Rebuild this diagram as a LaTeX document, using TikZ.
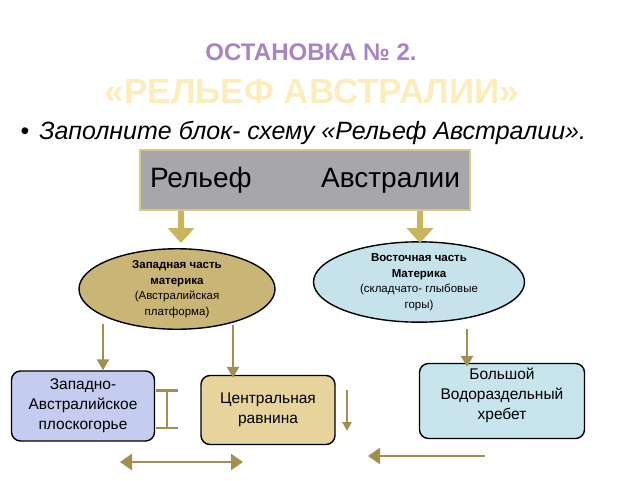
\documentclass[tikz,border=0pt]{standalone}
\usepackage{fontspec}
\setmainfont{Liberation Sans}
\usetikzlibrary{arrows.meta,shapes.geometric,positioning}
\definecolor{titlepurple}{HTML}{A785C5}
\definecolor{titleyellow}{HTML}{FCEDBC}
\definecolor{reliefgray}{HTML}{A7A6AB}
\definecolor{reliefedge}{HTML}{D5C98A}
\definecolor{blockgold}{HTML}{C8B55C}
\definecolor{westkhaki}{HTML}{C9B677}
\definecolor{eastblue}{HTML}{C6E3EB}
\definecolor{arrowolive}{HTML}{A08F50}
\definecolor{plateaublue}{HTML}{C4CDF0}
\definecolor{plainsand}{HTML}{E6D49C}
\definecolor{ridgeblue}{HTML}{C8E4EC}

\begin{document}
\begin{tikzpicture}[x=1pt, y=-1pt,
  part/.style={ellipse, draw=black, line width=1.4pt, minimum width=196pt, minimum height=72pt, inner sep=0pt, align=center, font=\fontsize{11.5}{15.5}\selectfont},
  region/.style={rectangle, rounded corners=9pt, draw=black, line width=1.4pt, align=center, inner sep=2pt, font=\fontsize{15.5}{20}\selectfont},
  blockarrow/.style={draw=blockgold, line width=6pt, -{Triangle[width=26pt,length=15pt]}},
  arr/.style={draw=arrowolive, line width=2.5pt, -{Triangle[width=12pt,length=11pt]}}]
  \useasboundingbox (0,0) rectangle (640,480);
  % titles
  \node[font=\fontsize{24}{24}\bfseries\selectfont, text=titlepurple] (title) at (311,52) {ОСТАНОВКА № 2.};
  \node[font=\fontsize{35}{35}\bfseries\selectfont, text=titleyellow] (subtitle) at (312,91) {«РЕЛЬЕФ АВСТРАЛИИ»};
  \node[font=\fontsize{25}{25}\selectfont, anchor=west] (task) at (17,133) {\textbullet\hspace{10pt}\itshape Заполните блок- схему «Рельеф Австралии».};
  % top block
  \node[fill=reliefgray, draw=reliefedge, line width=2pt, minimum width=330pt, minimum height=60pt, text width=310pt, font=\fontsize{28}{28}\selectfont] (relief) at (305,180) {Рельеф\hfill Австралии};
  \node[part, fill=westkhaki] (west) at (177,289) {\textbf{Западная часть}\\\textbf{материка}\\(Австралийская\\платформа)};
  \node[part, fill=eastblue, minimum width=211pt] (east) at (419,282) {\textbf{Восточная часть}\\\textbf{Материка}\\(складчато- глыбовые\\горы)};
  \draw[blockarrow] ([xshift=-124pt]relief.south) -- ++(0,32);
  \draw[blockarrow] ([xshift=115pt]relief.south) -- ++(0,32);
  % lower blocks
  \node[region, fill=plateaublue, minimum width=143pt, minimum height=70pt] (plateau) at (83,406) {Западно-\\Австралийское\\плоскогорье};
  \node[region, fill=plainsand, minimum width=134pt, minimum height=69pt] (plain) at (268,410) {Центральная\\равнина};
  \node[region, fill=ridgeblue, minimum width=165pt, minimum height=75pt, text depth=14pt] (ridge) at (502,401) {Большой\\Водораздельный\\хребет};
  \draw[arr] (plateau.north -| 103,0) ++(0,-46) -- ([xshift=20pt]plateau.north);
  \draw[arr] (plain.north -| 233,0) ++(0,-50) -- ([xshift=-35pt,yshift=-3pt]plain.north);
  \draw[arr] (east.south -| 467,0) ++(0,6) -- ([xshift=-35pt,yshift=-4pt]ridge.north);
  % free connectors
  \coordinate (ibeamtop) at (167,389);
  \coordinate (ibeambot) at (167,429);
  \draw[draw=arrowolive, line width=2.5pt, {Bar[width=22pt]}-{Bar[width=22pt]}] (ibeamtop) -- (ibeambot);
  \coordinate (downtop) at (347,390);
  \coordinate (downbot) at (347,431);
  \draw[draw=arrowolive, line width=2pt, -{Triangle[width=9pt,length=9pt]}] (downtop) -- (downbot);
  \coordinate (bothleft) at (120,462);
  \coordinate (bothright) at (243,462);
  \draw[draw=arrowolive, line width=2.5pt, {Triangle[width=16pt,length=12pt]}-{Triangle[width=16pt,length=12pt]}] (bothleft) -- (bothright);
  \coordinate (backstart) at (485,456);
  \coordinate (backend) at (368,456);
  \draw[draw=arrowolive, line width=2.5pt, -{Triangle[width=16pt,length=12pt]}] (backstart) -- (backend);
\end{tikzpicture}
\end{document}
